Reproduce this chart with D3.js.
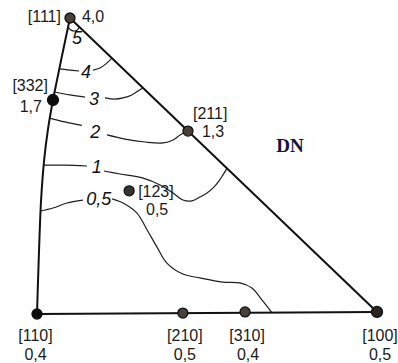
<!DOCTYPE html>
<html>
<head>
<meta charset="utf-8">
<script src="https://cdn.jsdelivr.net/npm/d3@7"></script>
<style>
  html, body { margin: 0; padding: 0; background: #fff; }
  svg { display: block; }
</style>
</head>
<body>
<div id="chart"></div>
<script>
// poles of the triangle, in relative coordinates ([110] = 0,0, [100] at u = 1)
const poleNames = ["[111]", "[332]", "[211]", "[123]", "[110]", "[210]", "[310]", "[100]"];
const poleValues = ["4,0", "1,7", "1,3", "0,5", "0,4", "0,5", "0,4", "0,5"];
const poleU = [0.097, 0.047, 0.444, 0.271, 0, 0.429, 0.612, 1];
const poleV = [1.0, 0.723, 0.618, 0.416, 0, 0.003, 0.007, 0.007];

// curved [110]-[111] edge
const edgeU = [0.097, 0.074, 0.059, 0.047, 0.032, 0.021, 0.012, 0.006, 0];
const edgeV = [1.0, 0.875, 0.791, 0.723, 0.622, 0.52, 0.385, 0.216, 0];

// iso-intensity lines, each split where its label sits
const levels = ["5", "4", "3", "2", "1", "0,5"];
const levelLabelU = [0.118, 0.144, 0.168, 0.171, 0.176, 0.182];
const levelLabelV = [0.932, 0.818, 0.726, 0.615, 0.497, 0.389];
const contourU = [
  [[0.091, 0.1, 0.109, 0.118, 0.125]],
  [[0.065, 0.09, 0.124], [0.165, 0.185, 0.203, 0.221]],
  [[0.051, 0.097, 0.141], [0.2, 0.229, 0.253, 0.279, 0.297, 0.312]],
  [[0.037, 0.082, 0.132], [0.206, 0.259, 0.318, 0.371, 0.4, 0.421, 0.444]],
  [[0.018, 0.082, 0.147], [0.197, 0.244, 0.312, 0.362, 0.4, 0.429, 0.456, 0.479, 0.5, 0.518, 0.535, 0.547, 0.559]],
  [[0.01, 0.047, 0.088, 0.135], [0.221, 0.253, 0.294, 0.324, 0.353, 0.382, 0.429, 0.479, 0.547, 0.597, 0.632, 0.662, 0.691]]
];
const contourV = [
  [[0.97, 0.959, 0.956, 0.959, 0.97]],
  [[0.828, 0.825, 0.821], [0.824, 0.831, 0.845, 0.865]],
  [[0.75, 0.74, 0.733], [0.73, 0.726, 0.73, 0.74, 0.753, 0.764]],
  [[0.662, 0.649, 0.637], [0.605, 0.591, 0.581, 0.578, 0.588, 0.605, 0.618]],
  [[0.503, 0.503, 0.5], [0.483, 0.473, 0.459, 0.436, 0.409, 0.385, 0.382, 0.395, 0.409, 0.426, 0.449, 0.47, 0.493]],
  [[0.348, 0.358, 0.375, 0.385], [0.389, 0.375, 0.341, 0.284, 0.226, 0.172, 0.135, 0.122, 0.108, 0.105, 0.088, 0.047, 0.005]]
];

const width = 398, height = 363;
const font = "Liberation Sans, Arial, Helvetica, sans-serif";

const svg = d3.select("#chart").append("svg")
  .attr("width", width).attr("height", height)
  .style("background", "#fff");

const x = d3.scaleLinear().domain([0, 1]).range([37, 377]);
const y = d3.scaleLinear().domain([0, 1]).range([314, 18]);

const line = d3.line()
  .x(d => x(d[0]))
  .y(d => y(d[1]))
  .curve(d3.curveCatmullRom.alpha(0.5));

const zip = (us, vs) => us.map((u, i) => [u, vs[i]]);

// contours
levels.forEach((lvl, i) => {
  contourU[i].forEach((seg, j) => {
    svg.append("path")
      .attr("d", line(zip(seg, contourV[i][j])))
      .attr("fill", "none")
      .attr("stroke", "#1e1e1e")
      .attr("stroke-width", 1.2);
  });
  svg.append("text")
    .attr("x", x(levelLabelU[i]))
    .attr("y", y(levelLabelV[i]))
    .attr("text-anchor", "middle")
    .attr("dominant-baseline", "central")
    .style("font-family", font)
    .style("font-style", "italic")
    .style("font-size", "18px")
    .attr("fill", "#111")
    .text(lvl);
});

// triangle edges
const iTop = poleNames.indexOf("[111]");
const iLeft = poleNames.indexOf("[110]");
const iRight = poleNames.indexOf("[100]");

svg.append("path")
  .attr("d", line(zip(edgeU, edgeV)))
  .attr("fill", "none")
  .attr("stroke", "#111")
  .attr("stroke-width", 2);

svg.append("line")
  .attr("x1", x(poleU[iTop])).attr("y1", y(poleV[iTop]))
  .attr("x2", x(poleU[iRight])).attr("y2", y(poleV[iRight]))
  .attr("stroke", "#111").attr("stroke-width", 2);

svg.append("line")
  .attr("x1", x(poleU[iLeft])).attr("y1", y(poleV[iLeft]))
  .attr("x2", x(poleU[iRight])).attr("y2", y(poleV[iRight]))
  .attr("stroke", "#111").attr("stroke-width", 2);

// pole dots
const dotFill = ["#4a4038", "#0d0d0d", "#4a4038", "#3a3430", "#0d0d0d", "#4a4038", "#4a4038", "#2a2520"];
const dotR = [5, 5.5, 5, 5, 5, 5, 5, 5.5];

svg.selectAll("circle.pole")
  .data(poleNames)
  .join("circle")
  .attr("class", "pole")
  .attr("cx", (d, i) => x(poleU[i]))
  .attr("cy", (d, i) => y(poleV[i]))
  .attr("r", (d, i) => dotR[i])
  .attr("fill", (d, i) => dotFill[i])
  .attr("stroke", "#111")
  .attr("stroke-width", 1.3);

// label offsets (name, value) relative to the pole
const nameOff = [[-9, 4, "end"], [-5, -9, "end"], [5, -12, "start"], [9, 6, "start"],
                 [-1.5, 27, "middle"], [2, 28, "middle"], [2, 29, "middle"], [3, 29, "middle"]];
const valOff = [[12, 4, "start"], [-11, 12, "end"], [14, 6, "start"], [28, 24, "middle"],
                [-1.5, 46, "middle"], [2, 47, "middle"], [3, 48, "middle"], [3, 48, "middle"]];

poleNames.forEach((name, i) => {
  const px = x(poleU[i]), py = y(poleV[i]);
  svg.append("text")
    .attr("x", px + nameOff[i][0]).attr("y", py + nameOff[i][1])
    .attr("text-anchor", nameOff[i][2])
    .style("font-family", font).style("font-size", "16px")
    .attr("fill", "#1a1a1a")
    .text(name);
  svg.append("text")
    .attr("x", px + valOff[i][0]).attr("y", py + valOff[i][1])
    .attr("text-anchor", valOff[i][2])
    .style("font-family", font).style("font-size", "16px")
    .attr("fill", "#1a1a1a")
    .text(poleValues[i]);
});

svg.append("text")
  .attr("x", 290).attr("y", 152)
  .attr("text-anchor", "middle")
  .style("font-family", "Liberation Serif, Times New Roman, serif")
  .style("font-weight", "bold")
  .style("font-size", "19px")
  .attr("fill", "#14143a")
  .text("DN");
</script>
</body>
</html>
